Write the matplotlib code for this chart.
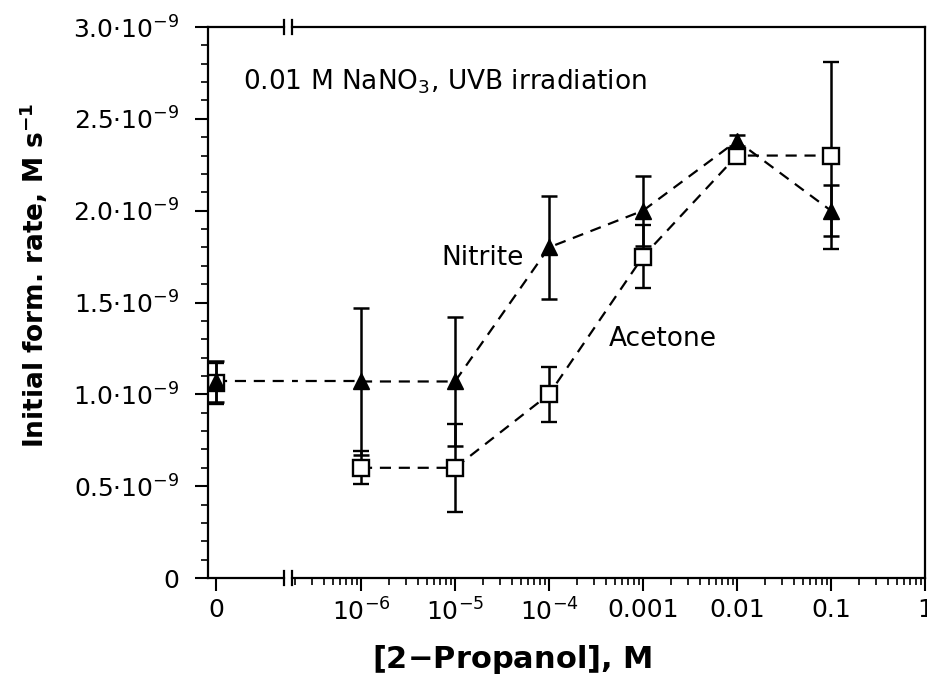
import matplotlib
matplotlib.use("Agg")
import matplotlib.pyplot as plt
from matplotlib.ticker import FixedLocator, FixedFormatter, MultipleLocator, LogLocator, NullFormatter, FuncFormatter

plt.rcParams['font.family'] = ['DejaVu Sans']
plt.rcParams['mathtext.default'] = 'regular'

# data (rates in M s^-1)
conc = [1e-6, 1e-5, 1e-4, 1e-3, 1e-2, 1e-1]
nitrite = [1.07e-9, 1.07e-9, 1.80e-9, 2.00e-9, 2.38e-9, 2.00e-9]
nitrite_err = [0.40e-9, 0.35e-9, 0.28e-9, 0.19e-9, 0.03e-9, 0.14e-9]
acetone = [0.60e-9, 0.60e-9, 1.00e-9, 1.75e-9, 2.30e-9, 2.30e-9]
acetone_err = [0.09e-9, 0.24e-9, 0.15e-9, 0.17e-9, 0.03e-9, 0.51e-9]
# value without 2-propanol
nitrite0, nitrite0_err = 1.07e-9, 0.11e-9
acetone0, acetone0_err = 1.06e-9, 0.11e-9

xticks = [1e-6, 1e-5, 1e-4, 1e-3, 1e-2, 1e-1, 1]
xticklabels = ['$10^{-6}$', '$10^{-5}$', '$10^{-4}$', '0.001', '0.01', '0.1', '1']

W, H = 927, 695
fig = plt.figure(figsize=(W / 100, H / 100), dpi=100)
bot, top = 578, 27
axl = fig.add_axes([208 / W, (H - bot) / H, (284 - 208) / W, (bot - top) / H])
axr = fig.add_axes([292 / W, (H - bot) / H, (925 - 292) / W, (bot - top) / H], sharey=axl)

lw = 1.8
dash = (5, 3.5)
tri = dict(marker='^', ms=11, color='black', mfc='black', mec='black')
sq = dict(marker='s', ms=11, color='black', mfc='white', mec='black', mew=1.7)
eb = dict(elinewidth=lw, capsize=6, capthick=lw, ecolor='black')

# zero point on left segment
axl.plot([0, 10], [nitrite0, nitrite0], '--', color='black', lw=1.6, dashes=dash)
axl.errorbar([0], [acetone0], yerr=[acetone0_err], ls='none', **sq, **eb)
axl.errorbar([0], [nitrite0], yerr=[nitrite0_err], ls='none', **tri, **eb)
axl.set_xlim(-0.1, 0.85)

# log segment
axr.plot([1e-9] + conc[:1], [nitrite0, nitrite[0]], '--', color='black', lw=1.6, dashes=dash)
axr.plot(conc, acetone, '--', color='black', lw=1.6, dashes=dash)
axr.plot(conc, nitrite, '--', color='black', lw=1.6, dashes=dash)
axr.errorbar(conc, acetone, yerr=acetone_err, ls='none', **sq, **eb)
axr.errorbar(conc, nitrite, yerr=nitrite_err, ls='none', **tri, **eb)
axr.set_xscale('log')
axr.set_xlim(10 ** -6.734, 1)

axl.set_ylim(0, 3.0e-9)
axl.yaxis.set_major_locator(MultipleLocator(0.5e-9))
axl.yaxis.set_minor_locator(MultipleLocator(0.1e-9))
axl.yaxis.set_major_formatter(FuncFormatter(
    lambda v, p: '0' if abs(v) < 1e-15 else '%.1f·$10^{-9}$' % (v * 1e9)))

axl.xaxis.set_major_locator(FixedLocator([0]))
axl.xaxis.set_major_formatter(FixedFormatter(['0']))
axr.xaxis.set_major_locator(FixedLocator(xticks))
axr.xaxis.set_major_formatter(FixedFormatter(xticklabels))
axr.xaxis.set_minor_locator(LogLocator(base=10, subs=range(2, 10), numticks=20))
axr.xaxis.set_minor_formatter(NullFormatter())

for ax in (axl, axr):
    for s in ax.spines.values():
        s.set_linewidth(1.6)
    ax.tick_params(which='major', direction='out', length=9.5, width=1.5, labelsize=18)
    ax.tick_params(which='minor', direction='out', length=5, width=1.2)
    ax.tick_params(axis='x', which='major', pad=5)
axl.tick_params(axis='y', which='major', pad=11)
axl.spines['right'].set_visible(False)
axr.spines['left'].set_visible(False)
axr.tick_params(axis='y', which='both', left=False, labelleft=False)

# axis break marks
for ax, xb in ((axl, 1.0), (axr, 0.0)):
    for yb in (0.0, 1.0):
        ax.plot([xb, xb], [yb - 0.013, yb + 0.013], color='black', lw=1.6,
                transform=ax.transAxes, clip_on=False)

fig.text(34 / W, 1 - 275 / H, 'Initial form. rate, M s$^{-1}$', fontsize=19,
         fontweight='bold', rotation=90, ha='center', va='center')
fig.text(512 / W, 1 - 660 / H, '[2$-$Propanol], M', fontsize=22, fontweight='bold',
         ha='center', va='center')

fig.text(243 / W, 1 - 82 / H, '0.01 M NaNO$_3$, UVB irradiation', fontsize=19, va='center')
fig.text(441 / W, 1 - 258 / H, 'Nitrite', fontsize=19, va='center')
fig.text(609 / W, 1 - 339 / H, 'Acetone', fontsize=19, va='center')

fig.savefig('out.png', dpi=100)
